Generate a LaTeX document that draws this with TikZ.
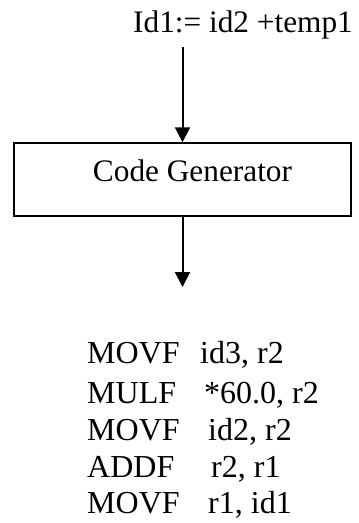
\documentclass[tikz,border=0pt]{standalone}
\usepackage{fontspec}
\setmainfont{Liberation Serif}
\usetikzlibrary{arrows.meta}

\begin{document}
\begin{tikzpicture}[x=1pt,y=-1pt,
    txt/.style={anchor=base west,inner sep=0pt},
    wire/.style={line width=2pt,->}]
\useasboundingbox (0,0) rectangle (359,523);
\begin{scope}[>={Triangle[length=15pt,width=15pt]},
              font=\fontsize{31.3}{36}\selectfont]
    % source statement
    \node[txt] (stmt) at (133,32) {Id1:= id2 +temp1};
    \coordinate (stmtout) at (182.5,47);

    \node[draw,line width=1.5pt,minimum width=337pt,minimum height=73pt,
          text height=22pt,text depth=18pt]
          (gen) at (182.5,179.5) {\hspace*{20pt}Code Generator};
    \draw[wire] (stmtout) -- (gen.north);

    \coordinate (codein) at (182.5,287);
    \draw[wire] (gen.south) -- (codein);

    % target code
    \foreach \op/\arg/\ax/\ly [count=\i] in
        {MOVF/{id3, r2}/200/363, MULF/{*60.0, r2}/204/403,
         MOVF/{id2, r2}/208/440, ADDF/{r2, r1}/211/477,
         MOVF/{r1, id1}/208/513}
    {
        \node[txt,font=\fontsize{32}{36}\selectfont] (op\i) at (87,\ly) {\op};
        \node[txt,font=\fontsize{32}{36}\selectfont] (arg\i) at (\ax,\ly) {\arg};
    }
\end{scope}
\end{tikzpicture}
\end{document}
